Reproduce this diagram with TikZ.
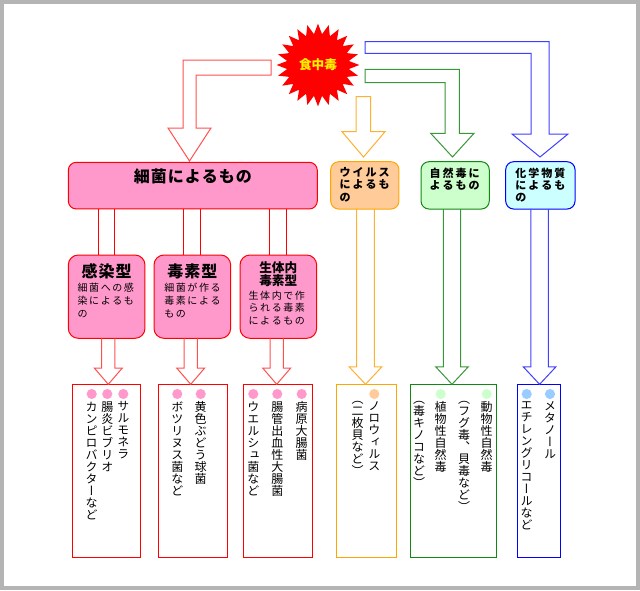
\documentclass[tikz,border=0pt]{standalone}
\usepackage{fontspec}
\setmainfont{Noto Sans CJK JP}
\newfontfamily\vfnt[RawFeature=+vert]{Noto Sans CJK JP}
\usetikzlibrary{shapes.geometric,calc}

\definecolor{pinkf}{HTML}{FF99CC}
\definecolor{orangef}{HTML}{FFCC99}
\definecolor{orangel}{HTML}{FFA500}
\definecolor{greenf}{HTML}{CCFFCC}
\definecolor{greenl}{HTML}{118811}
\definecolor{bluef}{HTML}{CCFFFF}
\definecolor{bluel}{HTML}{0000FF}
\definecolor{framegray}{HTML}{B4B4B4}
\definecolor{redarrow}{HTML}{FF5050}
\definecolor{orangearrow}{HTML}{FFB030}
\definecolor{greenarrow}{HTML}{3A963A}
\definecolor{bluearrow}{HTML}{3F3FFF}
\definecolor{bulletblue}{HTML}{99CCFF}

% character grid helpers
\def\gend{\gend}
\newdimen\gadv
\def\gloop#1{\ifx#1\gend\else\hbox to\gadv{\hss#1\hss}\expandafter\gloop\fi}
\newcommand\gtxt[2]{\leavevmode\gadv=#1\relax\gloop#2\gend}
\def\vloop#1{\ifx#1\gend\else\hbox to 9pt{\hss#1\hss}\expandafter\vloop\fi}
\newcommand\vtxt[1]{\vbox{\vfnt\fontsize{9}{9}\selectfont\baselineskip=9pt\lineskiplimit=-\maxdimen\lineskip=0pt\vloop#1\gend}}

\newcommand\blockdown[6]{% color, source, tip, shaft half, head half, head length
  \draw[#1, line width=0.75pt, line join=miter] let \p1=(#2), \p2=(#3) in
    (\x2-#4,\y1) -- (\x2-#4,\y2+#6) -- (\x2-#5,\y2+#6) -- (\x2,\y2)
    -- (\x2+#5,\y2+#6) -- (\x2+#4,\y2+#6) -- (\x2+#4,\y1);}

\tikzset{
  boxbase/.style={anchor=north west, inner sep=0pt, outer sep=0pt, line width=0.75pt},
  pinkbox/.style={boxbase, draw=red, fill=pinkf, rounded corners=#1},
  pinkbox/.default=7pt,
  resbox/.style={boxbase, draw=#1, fill=white, minimum height=129.75pt},
  coltext/.style={anchor=north, inner sep=0pt},
  bodytext/.style={anchor=north west, inner sep=0pt, align=left},
  labtext/.style={anchor=north west, inner sep=0pt, align=left, font=\bfseries\fontsize{8.25}{9.2}\selectfont},
}

\begin{document}
\begin{tikzpicture}[x=0.75pt,y=-0.75pt]
\useasboundingbox (0,0) rectangle (640,590);
\fill[framegray] (0,0) rectangle (640,590);
\fill[white] (3.7,3.7) rectangle (636,586);

% ---- star
\node[star, star points=24, star point ratio=1.33, minimum size=62pt, inner sep=0pt,
      fill=red, text=yellow, font=\bfseries\fontsize{9.5}{10}\selectfont] (doku) at (318,65) {食中毒};

% ---- bent arrows from the star
\draw[redarrow, line width=0.75pt, fill=white] (271,60) -- (183,60) -- (183,128) -- (168,128) -- (189.5,161)
   -- (211,128) -- (196,128) -- (196,75) -- (271,75) -- cycle;
\draw[bluearrow, line width=0.75pt, fill=white] (365,41.7) -- (549,41.7) -- (549,134) -- (568,134) -- (540,157)
   -- (512,134) -- (531,134) -- (531,53.3) -- (365,53.3) -- cycle;
\draw[greenarrow, line width=0.75pt, fill=white] (365,69.3) -- (459.3,69.3) -- (459.3,133.3) -- (474,133.3) -- (452.5,157)
   -- (430.7,133.3) -- (445,133.3) -- (445,82.7) -- (365,82.7) -- cycle;
\draw[orangearrow, line width=0.75pt, fill=white] (356,96.7) -- (370.7,96.7) -- (370.7,131.7) -- (385,131.7) -- (363.5,157)
   -- (342,131.7) -- (356,131.7) -- cycle;

% ---- level 1 boxes
\node[pinkbox=6pt, minimum width=186.75pt, minimum height=35pt] (bac) at (68.3,162.3) {};
\node[font=\bfseries\fontsize{12}{12}\selectfont] (bact) at (192.8,176) {\gtxt{12.75pt}{細菌によるもの}};

\node[boxbase, draw=orangel, fill=orangef, rounded corners=6pt, minimum width=51.2pt, minimum height=35.5pt] (vir) at (330.7,161.7) {};
\node[labtext] (virt) at (338.3,167.3) {\gtxt{9.75pt}{ウイルス}\\\gtxt{9.75pt}{によるも}\\\gtxt{9.75pt}{の}};

\node[boxbase, draw=greenl, fill=greenf, rounded corners=6pt, minimum width=51.2pt, minimum height=35.5pt] (nat) at (421,161.7) {};
\node[labtext] (natt) at (428.3,167.3) {\gtxt{9.75pt}{自然毒に}\\\gtxt{9.75pt}{よるもの}};

\node[boxbase, draw=bluel, fill=bluef, rounded corners=6pt, minimum width=52pt, minimum height=35.5pt] (chem) at (505.7,161.7) {};
\node[labtext] (chemt) at (514,167.3) {\gtxt{9.75pt}{化学物質}\\\gtxt{9.75pt}{によるも}\\\gtxt{9.75pt}{の}};

% ---- level 2 pink boxes
\node[pinkbox=7.5pt, minimum width=57.5pt, minimum height=62.5pt] (s1) at (68.3,255) {};
\node[pinkbox=7.5pt, minimum width=57.5pt, minimum height=62.5pt] (s2) at (154,255) {};
\node[pinkbox=7.5pt, minimum width=57.5pt, minimum height=62.5pt] (s3) at (240,255) {};

\node[font=\bfseries\fontsize{12}{12}\selectfont] (s1t) at (106.7,271.7) {\gtxt{12.75pt}{感染型}};
\node[font=\bfseries\fontsize{12}{12}\selectfont] (s2t) at (192.4,271.7) {\gtxt{12.75pt}{毒素型}};
\node[font=\bfseries\fontsize{9.5}{10}\selectfont] (s3t1) at (278.3,267.3) {\gtxt{9.5pt}{生体内}};
\node[font=\bfseries\fontsize{9.5}{10}\selectfont] (s3t2) at (278.3,281) {\gtxt{9.5pt}{毒素型}};

\node[bodytext, font=\fontsize{7.5}{10}\selectfont] (s1b) at (76.5,282.5)
  {\gtxt{8.7pt}{細菌への感}\\\gtxt{8.7pt}{染によるも}\\\gtxt{8.7pt}{の}};
\node[bodytext, font=\fontsize{7.5}{10}\selectfont] (s2b) at (163.2,282.5)
  {\gtxt{8.7pt}{細菌が作る}\\\gtxt{8.7pt}{毒素による}\\\gtxt{8.7pt}{もの}};
\node[bodytext, font=\fontsize{7.5}{9.2}\selectfont] (s3b) at (247.5,290.8)
  {\gtxt{8.7pt}{生体内で作}\\\gtxt{8.7pt}{られる毒素}\\\gtxt{8.7pt}{によるもの}};

% ---- shafts main box -> sub boxes
\foreach \s in {s1,s2,s3}{
  \draw[red, line width=0.75pt] ([xshift=-6.26pt]\s.north) -- ([xshift=-6.26pt]\s.north |- bac.south);
  \draw[red, line width=0.75pt] ([xshift=6.26pt]\s.north) -- ([xshift=6.26pt]\s.north |- bac.south);
}

% ---- result boxes
\node[resbox=red, minimum width=51.3pt] (r1) at (72.3,384.3) {};
\node[resbox=red, minimum width=51.75pt] (r2) at (158.3,384.3) {};
\node[resbox=red, minimum width=51.75pt] (r3) at (243.3,384.3) {};
\node[resbox=orangel, minimum width=45pt] (r4) at (336.7,384.3) {};
\node[resbox=greenl, minimum width=64.5pt] (r5) at (410.7,384.3) {};
\node[resbox=bluel, minimum width=32.25pt] (r6) at (517.7,384.3) {};

% ---- arrow tips
\coordinate (t1) at (108.3,384.3);
\coordinate (t2) at (190.7,384.3);
\coordinate (t3) at (276.7,384.3);
\coordinate (t4) at (365.5,384.3);
\coordinate (t5) at (452,384.3);
\coordinate (t6) at (539.6,384.3);

\blockdown{redarrow}{s1.south}{t1}{5pt}{10.5pt}{12.2pt}
\blockdown{redarrow}{s2.south}{t2}{5pt}{10.5pt}{12.2pt}
\blockdown{redarrow}{s3.south}{t3}{5pt}{10.5pt}{12.2pt}
\blockdown{orangearrow}{vir.south}{t4}{6.6pt}{12.15pt}{13pt}
\blockdown{greenarrow}{nat.south}{t5}{6.5pt}{12.1pt}{13pt}
\blockdown{bluearrow}{chem.south}{t6}{6.6pt}{12.15pt}{13pt}

% ---- bullets
\foreach \x in {123.3,107.3,91.7,200.7,177.3,301.7,277.3,253.3}{\fill[pinkf] (\x,394) circle (3.8pt);}
\fill[orangef] (374.3,394) circle (3.8pt);
\foreach \x in {486.7,440.7}{\fill[greenf] (\x,394) circle (3.8pt);}
\foreach \x in {550,526.7}{\fill[bulletblue] (\x,394) circle (3.8pt);}

% ---- vertical columns
\node[coltext] (c11) at (123.3,401.5) {\vtxt{サルモネラ}};
\node[coltext] (c12) at (107.3,401.5) {\vtxt{腸炎ビブリオ}};
\node[coltext] (c13) at (91.7,401.5) {\vtxt{カンピロバクターなど}};
\node[coltext] (c21) at (200.7,401.5) {\vtxt{黄色ぶどう球菌}};
\node[coltext] (c22) at (177.3,401.5) {\vtxt{ボツリヌス菌など}};
\node[coltext] (c31) at (301.7,401.5) {\vtxt{病原大腸菌}};
\node[coltext] (c32) at (277.3,401.5) {\vtxt{腸管出血性大腸菌}};
\node[coltext] (c33) at (253.3,401.5) {\vtxt{ウエルシュ菌など}};
\node[coltext] (c41) at (374.3,401.5) {\vtxt{ノロウィルス}};
\node[coltext] (c42) at (357.7,401.5) {\vtxt{（二枚貝など）}};
\node[coltext] (c51) at (486.7,401.5) {\vtxt{動物性自然毒}};
\node[coltext] (c52) at (464,401.5) {\vtxt{（フグ毒、貝毒など）}};
\node[coltext] (c53) at (440.7,401.5) {\vtxt{植物性自然毒}};
\node[coltext] (c54) at (419,401.5) {\vtxt{（毒キノコなど）}};
\node[coltext] (c61) at (550,401.5) {\vtxt{メタノール}};
\node[coltext] (c62) at (526.7,401.5) {\vtxt{エチレングリコールなど}};
\end{tikzpicture}
\end{document}
